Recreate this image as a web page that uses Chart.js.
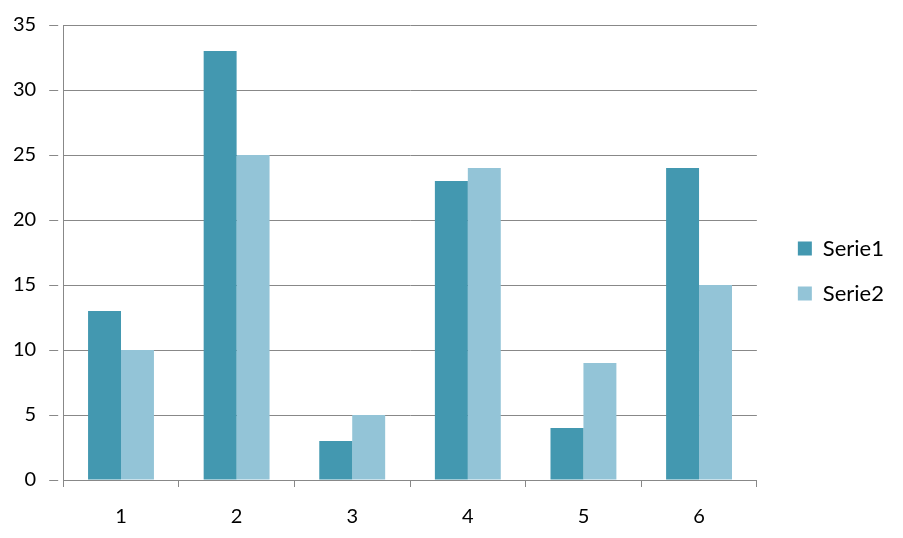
<!DOCTYPE html>
<html>
<head>
<meta charset="utf-8">
<script src="https://cdn.jsdelivr.net/npm/chart.js@4"></script>
<style>
  html, body { margin: 0; padding: 0; background: #fff; }
  #wrap { width: 903px; height: 538px; }
</style>
</head>
<body>
<div id="wrap"><canvas id="chart1"></canvas></div>
<script>
const categories = ['1', '2', '3', '4', '5', '6'];
const serie1 = [13, 33, 3, 23, 4, 24];
const serie2 = [10, 25, 5, 24, 9, 15];

const ctx = document.getElementById('chart1');

new Chart(ctx, {
    type: 'bar',
    data: {
        labels: categories,
        datasets: [{
            label: 'Serie1',
            data: serie1,
            backgroundColor: '#4398B0',
            borderWidth: 0
        }, {
            label: 'Serie2',
            data: serie2,
            backgroundColor: '#93C4D7',
            borderWidth: 0
        }]
    },
    options: {
        responsive: true,
        maintainAspectRatio: false,
        animation: false,
        layout: {
            padding: { top: 4, right: 9, left: 0, bottom: 0 }
        },
        datasets: {
            bar: { categoryPercentage: 0.57, barPercentage: 1 }
        },
        scales: {
            x: {
                grid: {
                    drawOnChartArea: false,
                    drawTicks: true,
                    tickLength: 7,
                    color: '#888888'
                },
                border: { color: '#888888' },
                ticks: {
                    color: '#000',
                    padding: 18,
                    font: { family: 'Lato', size: 20 }
                },
                afterFit: function (scale) { scale.height = 58; }
            },
            y: {
                min: 0,
                max: 35,
                ticks: {
                    stepSize: 5,
                    color: '#000',
                    padding: 13,
                    font: { family: 'Lato', size: 20 }
                },
                grid: {
                    color: '#888888',
                    tickLength: 14,
                    // only the 9px next to the axis is visible
                    tickBorderDash: [9, 40]
                },
                border: { color: '#888888' }
            },
            // empty gap between plot and legend
            gap: {
                type: 'linear',
                position: 'right',
                ticks: { display: false },
                grid: { display: false },
                border: { display: false },
                afterFit: function (scale) { scale.width = 18; }
            }
        },
        plugins: {
            tooltip: { enabled: false },
            legend: {
                position: 'right',
                labels: {
                    boxWidth: 14,
                    boxHeight: 14,
                    padding: 23,
                    color: '#000',
                    font: { family: 'Lato', size: 22 }
                }
            }
        }
    }
});
</script>
</body>
</html>
